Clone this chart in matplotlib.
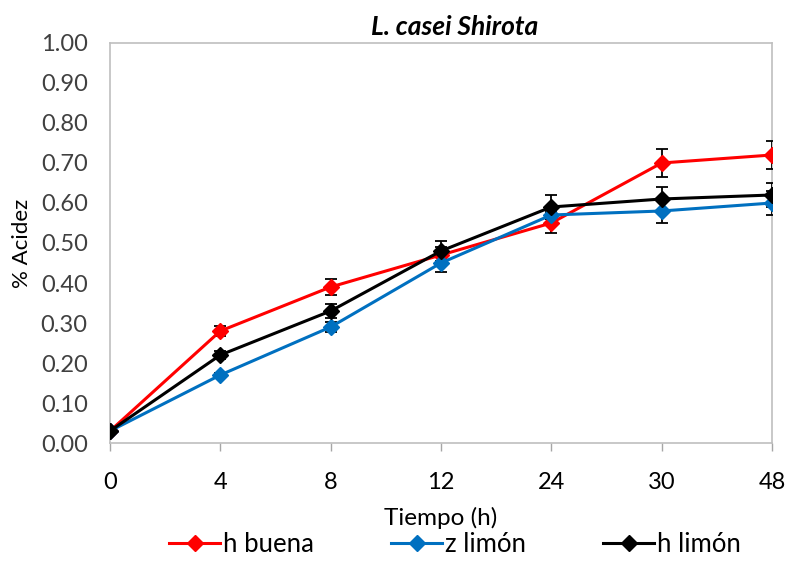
import matplotlib
matplotlib.use("Agg")
import matplotlib.pyplot as plt
from matplotlib.lines import Line2D
import numpy as np

plt.rcParams['font.family'] = ['Lato', 'DejaVu Sans']

tiempo = ["0", "4", "8", "12", "24", "30", "48"]
h_buena = [0.03, 0.28, 0.39, 0.47, 0.55, 0.70, 0.72]
h_buena_err = [0.0, 0.013, 0.02, 0.02, 0.025, 0.035, 0.036]
z_limon = [0.03, 0.17, 0.29, 0.45, 0.57, 0.58, 0.60]
z_limon_err = [0.0, 0.005, 0.013, 0.022, 0.01, 0.03, 0.03]
h_limon = [0.03, 0.22, 0.33, 0.48, 0.59, 0.61, 0.62]
h_limon_err = [0.0, 0.01, 0.017, 0.025, 0.03, 0.03, 0.03]
y_ticks = [0.0, 0.1, 0.2, 0.3, 0.4, 0.5, 0.6, 0.7, 0.8, 0.9, 1.0]

fig = plt.figure(figsize=(7.9, 5.61), dpi=100)
ax = fig.add_axes([0.1392, 0.2103, 0.838, 0.7131])
x = np.arange(len(tiempo))

series = [
    ("h buena", h_buena, h_buena_err, "#FF0000"),
    ("z limón", z_limon, z_limon_err, "#0070C0"),
    ("h limón", h_limon, h_limon_err, "#000000"),
]
handles = []
for name, vals, err, col in series:
    ax.errorbar(x, vals, yerr=err, color=col, lw=2.2, marker="D", ms=8,
                mfc=col, mec=col, ecolor="black", elinewidth=1.3,
                capsize=4, capthick=1.3, zorder=3)
    handles.append(Line2D([], [], color=col, lw=2.2, marker="D", ms=8,
                          mfc=col, mec=col, label=name))

ax.set_xlim(0, len(tiempo) - 1)
ax.set_ylim(0, 1.0)
ax.set_xticks(x)
ax.set_xticklabels(tiempo, fontsize=17, color="black")
ax.set_yticks(y_ticks)
ax.set_yticklabels([f"{v:.2f}" for v in y_ticks], fontsize=17, color="#404040")
ax.tick_params(axis="y", length=0, pad=16)
ax.tick_params(axis="x", length=6, color="#A6A6A6", width=1, pad=15)
for s in ax.spines.values():
    s.set_color("#BFBFBF")
    s.set_linewidth(1.2)

ax.set_title("L. casei Shirota", fontsize=19, fontweight="bold", style="italic",
             pad=6, x=0.52)
ax.set_ylabel("% Acidez", fontsize=16, labelpad=6)
ax.set_xlabel("Tiempo (h)", fontsize=17.5, labelpad=10)

leg = ax.legend(handles=handles, loc="upper center", bbox_to_anchor=(0.521, -0.222), ncol=3,
                frameon=False, fontsize=18.5, handlelength=2.0, columnspacing=3.0,
                handletextpad=0.1, borderaxespad=0, borderpad=0)

fig.savefig("out.png", dpi=100)
